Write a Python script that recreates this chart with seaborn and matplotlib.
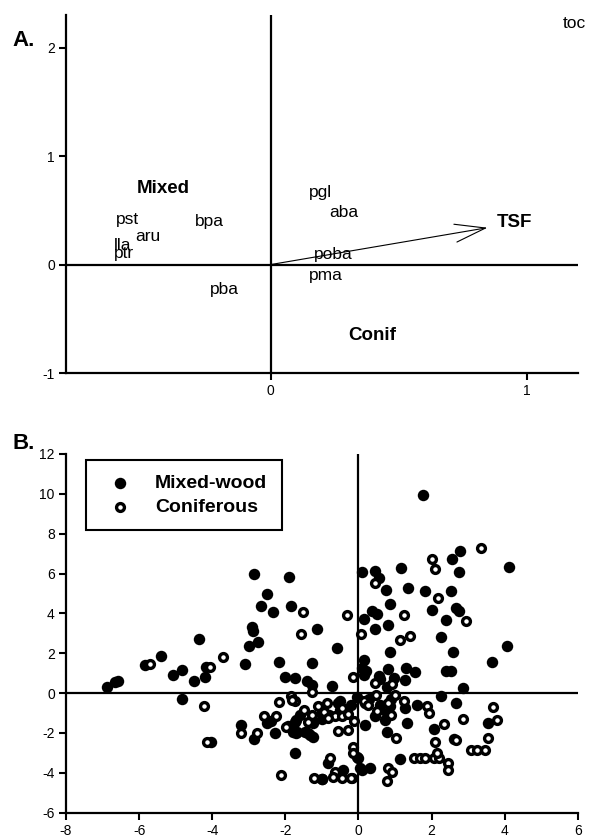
import pandas as pd
import matplotlib
matplotlib.use("Agg")
import matplotlib.pyplot as plt
import seaborn as sns

# Panel A - species scores and group centroids
species = ["pst", "bpa", "aru", "lla", "ptr", "pba", "pgl", "aba", "poba", "pma", "toc"]
species_x = [-0.56, -0.24, -0.48, -0.58, -0.575, -0.18, 0.195, 0.285, 0.245, 0.215, 1.185]
species_y = [0.42, 0.40, 0.26, 0.18, 0.105, -0.23, 0.66, 0.48, 0.09, -0.105, 2.22]
groups = ["Mixed", "Conif"]
group_x = [-0.42, 0.395]
group_y = [0.705, -0.65]
tsf_x = 0.847
tsf_y = 0.34

# Panel B - site scores
mixed_x = [-6.88, -6.65, -6.59, -5.83, -5.39, -5.08, -4.83, -4.83, -4.50, -4.35, -4.21, -4.17, -4.03,
           -3.10, -3.22, -3.00, -2.75, -2.90, -2.89, -2.86, -2.86, -2.67, -2.49, -2.35, -2.49, -2.40,
           -2.29, -2.17, -2.02, -1.89, -1.85, -1.74, -1.74, -1.71, -1.71, -1.13, -0.60, -1.26, -1.42,
           -1.28, -0.71,
           -1.73, -1.92, -1.69, -1.46, -1.32, -1.60, -1.23, -1.00, -0.55, -0.50, -1.79, -1.37, -1.24,
           -1.00, -0.80, -0.04, -1.00, 0.09, 0.05, 0.32, 0.00, -0.82, -0.41, -1.01,
           0.09, 0.44, 0.57, 1.17, 0.76, 1.36, 0.85, 0.37, 0.52, 0.16, 0.46, 0.82, 0.87, 0.14, 0.10,
           0.14, 0.55, 0.82, 0.96, 1.31, 1.54, 1.28, 0.78, 0.60, 0.20,
           1.77, 2.79, 2.56, 2.75, 4.12, 1.83, 2.52, 2.00, 2.66, 2.75, 2.40, 2.27, 2.58, 4.06, 3.64,
           2.40, 2.52, 2.87,
           2.27, 2.68, 3.53, 2.06, 2.61, 1.60, 1.33, 1.13, 0.18, 0.44, -0.05, 0.60, 1.28, 0.78, 0.73,
           0.78, 0.87, -0.50, 0.18, 0.30, 0.90, -0.20]
mixed_y = [0.30, 0.54, 0.59, 1.39, 1.85, 0.92, 1.17, -0.30, 0.62, 2.73, 0.81, 1.29, -2.43,
           1.48, -1.59, 2.35, 2.57, 3.31, 3.14, 5.96, -2.32, 4.36, 4.95, 4.09, -1.51, -1.40,
           -2.01, 1.54, 0.79, 5.82, 4.36, 0.76, -2.99, -1.34, -2.01, 3.22, 2.27, 1.51, 0.59,
           0.42, 0.34,
           -1.43, -1.64, -1.93, -1.93, -2.10, -1.09, -1.51, -1.00, -0.50, -0.84, -1.93, -2.01, -2.18,
           -1.30, -1.10, -3.19, -4.32, -3.85, -3.78, -3.78, -3.27, -3.52, -3.86, -4.33,
           6.07, 6.12, 5.79, 6.26, 5.17, 5.25, 4.45, 4.11, 3.98, 3.72, 3.22, 3.41, 2.06, 1.68, 1.26,
           0.92, 0.87, 1.21, 0.76, 1.26, 1.04, 0.67, 0.30, 0.70, 1.10,
           9.93, 7.13, 6.74, 6.09, 6.33, 5.12, 5.12, 4.19, 4.28, 4.14, 3.69, 2.82, 2.06, 2.35, 1.56,
           1.09, 1.12, 0.25,
           -0.13, -0.50, -1.48, -1.81, -2.30, -0.59, -1.51, -3.31, -1.59, -1.17, -0.17, -0.59, -0.75,
           -1.00, -1.34, -1.93, -0.67, -0.42, -0.50, -0.30, -0.30, -0.60]

conif_x = [-5.69, -4.05, -4.23, -4.14, -3.70, -3.21, -2.78, -2.59, -2.26, -2.17, -2.13, -1.99, -1.85,
           -1.74, -1.58, -1.51, -1.26, -1.82, -1.48, -1.12, -0.87, -1.28, -0.93, -0.64, -0.45, -0.29,
           -0.11, -0.84, -1.39, -0.55, -0.29, -0.14, -0.14, -0.78, -0.64, -0.45, -0.18, -1.21, -0.69,
           0.46, 1.25, -0.30, 0.07, 1.13, 1.42, -0.16, 0.44, 0.92,
           3.34, 2.00, 2.09, 2.18, 2.93,
           3.67, 2.86, 3.80, 2.34, 2.09, 2.67, 3.53, 3.07, 3.25, 3.45, 1.51, 1.69, 1.83, 2.06, 2.20,
           2.15, 2.45, 2.45, 1.88, 1.94, 1.03, 0.80, 0.92, 0.78, -0.20, 0.14, 0.27, 0.48, 0.82, 1.01,
           1.24, -0.46, 0.50, 0.90]
conif_y = [1.46, 1.29, -0.64, -2.47, 1.81, -2.01, -1.98, -1.14, -1.17, -0.47, -4.11, -1.68, -0.13,
           -0.42, 2.97, 4.06, 0.05, -0.34, -0.87, -0.67, -0.50, -1.09, -0.97, -1.17, -1.14, -1.04,
           -1.38, -1.26, -1.46, -1.88, -1.84, -2.71, -3.02, -3.27, -3.94, -4.27, -4.27, -4.27, -4.19,
           5.54, 3.94, 3.94, 2.97, 2.68, 2.89, 0.81, 0.50, 0.47,
           7.30, 6.71, 6.24, 4.78, 3.61,
           -0.70, -1.29, -1.34, -1.54, -2.47, -2.35, -2.26, -2.85, -2.85, -2.85, -3.27, -3.24, -3.27,
           -3.27, -3.27, -3.02, -3.49, -3.86, -0.67, -1.00, -2.26, -3.74, -3.94, -4.41, -4.24, -0.42,
           -0.59, -0.08, -0.50, -0.08, -0.42, -0.75, -0.90, -1.10]

sites = pd.concat([
    pd.DataFrame({"x": mixed_x, "y": mixed_y, "stand": "Mixed-wood"}),
    pd.DataFrame({"x": conif_x, "y": conif_y, "stand": "Coniferous"}),
])

sns.set_style("ticks")
plt.rcParams["font.family"] = ["Liberation Sans", "DejaVu Sans"]
plt.rcParams["axes.linewidth"] = 1.6
plt.rcParams["axes.unicode_minus"] = False
plt.rcParams["text.color"] = "black"
plt.rcParams["axes.edgecolor"] = "black"

fig = plt.figure(figsize=(5.89, 8.39), dpi=100)
axA = fig.add_axes([0.112, 0.5554, 0.869, 0.4266])
axB = fig.add_axes([0.112, 0.0313, 0.869, 0.4277])

lw = 1.6

# ---- Panel A
axA.set_xlim(-0.8, 1.2)
axA.set_ylim(-1, 2.3)
axA.axhline(0, color="black", lw=lw, zorder=1)
axA.axvline(0, color="black", lw=lw, zorder=1)
for name, x, y in zip(species, species_x, species_y):
    axA.text(x, y, name, ha="center", va="center", fontsize=12.5, color="black")
for name, x, y in zip(groups, group_x, group_y):
    axA.text(x, y, name, ha="center", va="center", fontsize=13.5, fontweight="bold", color="black")
axA.annotate("", xy=(tsf_x, tsf_y), xytext=(0, 0),
             arrowprops=dict(arrowstyle="->,head_length=22,head_width=6.5", mutation_scale=1,
                             lw=0.8, color="black", shrinkA=0, shrinkB=0))
axA.text(tsf_x + 0.035, tsf_y + 0.05, "TSF", ha="left", va="center", fontsize=13.5,
         fontweight="bold", color="black")
axA.set_xticks([0, 1])
axA.set_yticks([-1, 0, 1, 2])
axA.text(-0.105, 0.93, "A.", transform=axA.transAxes, fontsize=16, fontweight="bold",
         ha="left", va="center", color="black")

# ---- Panel B
sns.scatterplot(data=sites[sites.stand == "Mixed-wood"], x="x", y="y", ax=axB,
                color="black", edgecolor="black", linewidth=0, s=68, zorder=3,
                label="Mixed-wood")
sns.scatterplot(data=sites[sites.stand == "Coniferous"], x="x", y="y", ax=axB,
                color="white", edgecolor="black", linewidth=2.4, s=32, zorder=4,
                label="Coniferous")
axB.axhline(0, color="black", lw=lw, zorder=2)
axB.axvline(0, color="black", lw=lw, zorder=2)
axB.set_xlim(-8, 6)
axB.set_ylim(-6, 12)
axB.set_xticks(range(-8, 7, 2))
axB.set_yticks(range(-6, 13, 2))
axB.set_xlabel("")
axB.set_ylabel("")
leg = axB.legend(loc="upper left", bbox_to_anchor=(0.039, 0.983), borderaxespad=0,
                 frameon=True, fancybox=False, edgecolor="black", framealpha=1,
                 prop={"size": 14, "weight": "bold"}, borderpad=0.75,
                 handletextpad=0.8, labelspacing=0.3, handlelength=2.0)
leg.get_frame().set_linewidth(1.5)
for t in leg.get_texts():
    t.set_color("black")
axB.text(-0.105, 1.03, "B.", transform=axB.transAxes, fontsize=16, fontweight="bold",
         ha="left", va="center", color="black")

for ax in (axA, axB):
    sns.despine(ax=ax)
    ax.tick_params(direction="out", length=5, width=1.5, labelsize=10, pad=3,
                   colors="black", labelcolor="black")
    ax.grid(False)

fig.savefig("out.png", dpi=100)
